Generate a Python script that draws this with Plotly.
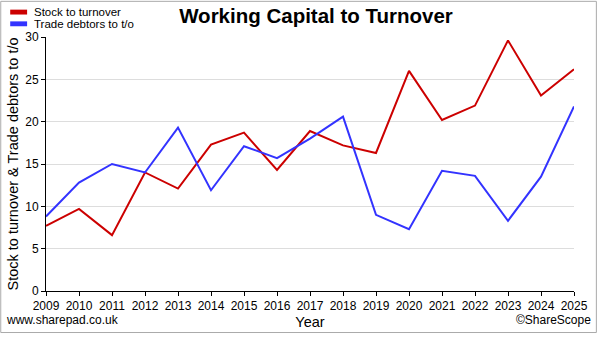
import plotly.graph_objects as go

years = list(range(2009, 2026))
stock_to_turnover = [7.7, 9.7, 6.6, 14.0, 12.1, 17.3, 18.7, 14.3, 18.9, 17.2, 16.3, 26.0, 20.2, 21.9, 29.6, 23.1, 26.2]
trade_debtors_to_to = [8.8, 12.8, 15.0, 14.0, 19.3, 11.9, 17.1, 15.7, 18.0, 20.6, 9.0, 7.3, 14.2, 13.6, 8.3, 13.5, 21.8]
series_names = ["Stock to turnover", "Trade debtors to t/o"]
colors = ["#cc0000", "#3333ff"]
y_ticks = [0, 5, 10, 15, 20, 25, 30]

FONT = "Liberation Sans, Arial, sans-serif"

fig = go.Figure()
for name, vals, c in zip(series_names, [stock_to_turnover, trade_debtors_to_to], colors):
    fig.add_trace(go.Scatter(x=years, y=vals, mode="lines", name=name,
                             line=dict(color=c, width=2), showlegend=False))

W, H = 600, 340
ml, mr, mt, mb = 46, 23, 37, 43
pw, ph = W - ml - mr, H - mt - mb
def px(x):
    return (x - ml) / pw
def py(y):
    return (H - mb - y) / ph

shapes = [dict(type="rect", xref="paper", yref="paper", x0=px(0.5), y0=py(339.5), x1=px(599.5), y1=py(0.5),
               line=dict(color="#aaaaaa", width=1))]
annotations = []
for i, (name, c) in enumerate(zip(series_names, colors)):
    yc = 11.5 + i * 12
    shapes.append(dict(type="rect", xref="paper", yref="paper",
                       x0=px(10), x1=px(27), y0=py(yc - 2.5), y1=py(yc + 2.5),
                       fillcolor=c, line=dict(width=0)))
    annotations.append(dict(text=name, xref="paper", yref="paper", x=px(32), y=py(yc),
                            xanchor="left", yanchor="middle", showarrow=False,
                            font=dict(family=FONT, size=11.5, color="#000")))
annotations.append(dict(text="www.sharepad.co.uk", xref="paper", yref="paper", x=px(4), y=py(327),
                        xanchor="left", yanchor="middle", showarrow=False,
                        font=dict(family=FONT, size=12, color="#000")))
annotations.append(dict(text="©ShareScope", xref="paper", yref="paper", x=px(596), y=py(327),
                        xanchor="right", yanchor="middle", showarrow=False,
                        font=dict(family=FONT, size=12, color="#000")))

fig.update_layout(
    width=W, height=H,
    margin=dict(l=ml, r=mr, t=mt, b=mb),
    paper_bgcolor="white", plot_bgcolor="white",
    title=dict(text="<b>Working Capital to Turnover</b>", x=316 / W, xanchor="center",
               y=1 - 16 / H, yanchor="middle", font=dict(family=FONT, size=20.5, color="#000")),
    font=dict(family=FONT, size=12, color="#000"),
    xaxis=dict(range=[2009, 2025], tickmode="array", tickvals=years, ticktext=[str(y) for y in years],
               showgrid=False, showline=True, linecolor="#000", linewidth=1,
               ticks="outside", ticklen=4, tickcolor="#000", zeroline=False,
               title=dict(text="Year", font=dict(size=14.5), standoff=4)),
    yaxis=dict(range=[0, 30], tickmode="array", tickvals=y_ticks,
               showgrid=True, gridcolor="#dddddd", showline=True, linecolor="#000", linewidth=1,
               ticks="outside", ticklen=4, tickcolor="#000", zeroline=False,
               title=dict(text="Stock to turnover & Trade debtors to t/o", font=dict(size=14.5), standoff=3)),
    shapes=shapes, annotations=annotations,
)
fig.write_html("out.html")
